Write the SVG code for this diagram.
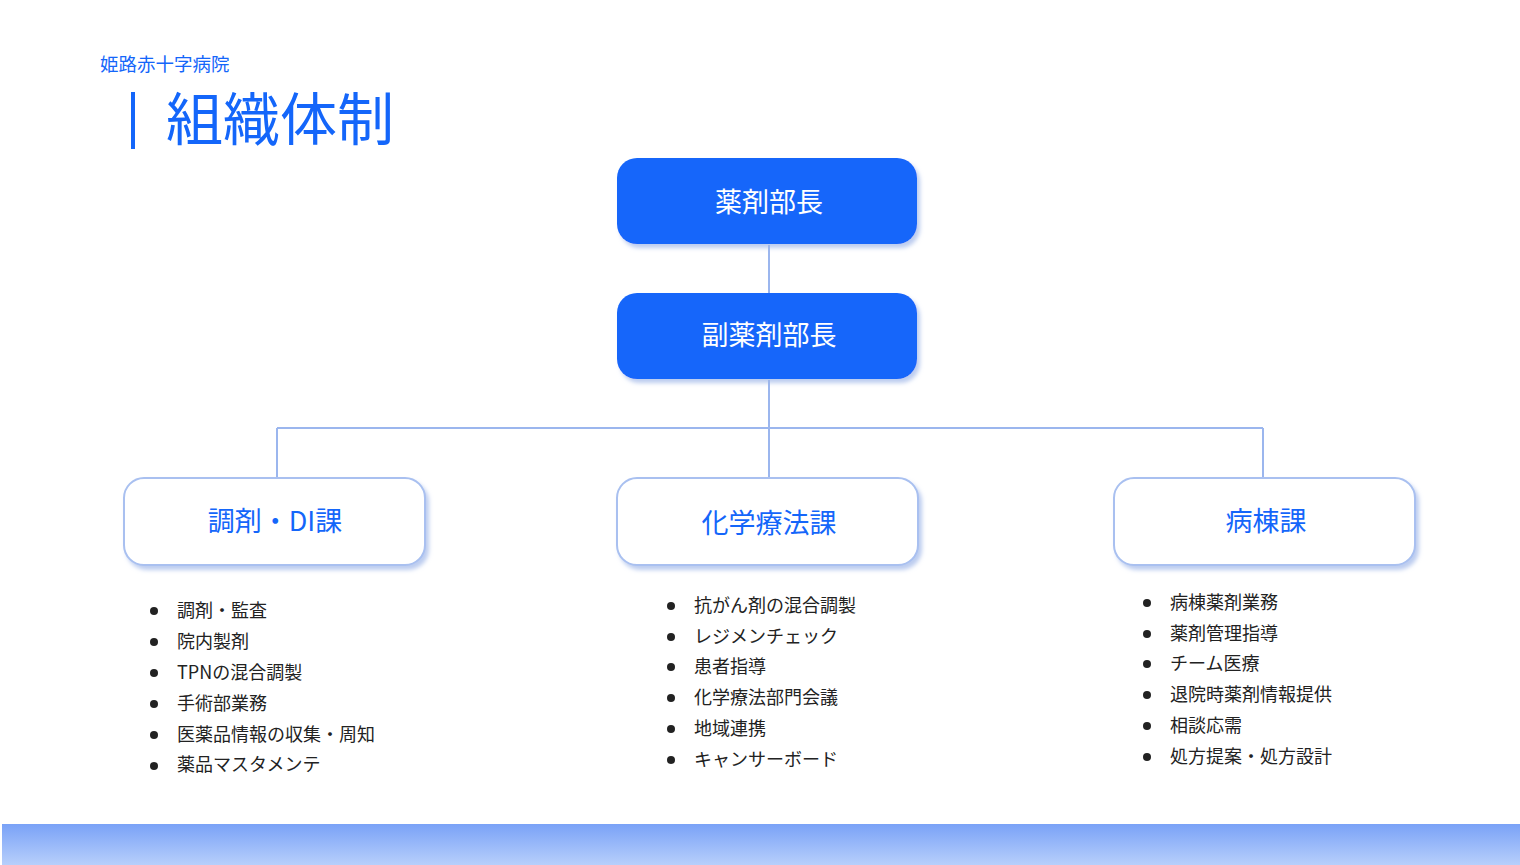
<svg xmlns="http://www.w3.org/2000/svg" width="1520" height="865" viewBox="0 0 1520 865">
<defs>
<linearGradient id="bar" x1="0" y1="0" x2="0" y2="1"><stop offset="0" stop-color="#7aa2f7"/><stop offset="1" stop-color="#b7cffb"/></linearGradient>
<filter id="sh" x="-10%" y="-10%" width="125%" height="130%"><feDropShadow dx="3" dy="4" stdDeviation="2" flood-color="#9fb6e8" flood-opacity="0.7"/></filter>
</defs>
<style>
text{font-family:"Noto Sans CJK JP","Noto Sans",sans-serif}
.top{fill:#1466fa;filter:url(#sh)}
.sub{fill:#fff;stroke:#a9c0f0;stroke-width:2;filter:url(#sh)}
.tw{fill:#fff;font-size:27px;text-anchor:middle}
.tb{fill:#1466fa;font-size:27px;text-anchor:middle}
.li{font-size:18px;fill:#222}
.b{fill:#222}
.ln{stroke:#9bb6ee;stroke-width:2;fill:none}
</style>
<rect width="1520" height="865" fill="#fff"/>
<text x="100" y="71" font-size="18.5" fill="#1466fa">姫路赤十字病院</text>
<rect x="131" y="92" width="4" height="57" fill="#1466fa"/>
<text x="166" y="140" font-size="57" fill="#1466fa">組織体制</text>
<g id="connectors">
<path class="ln" d="M769 245V293M769 380V428M277 428H1263M277 428V478M769 428V478M1263 428V478"/>
</g>
<g id="n1"><rect class="top" x="617" y="158" width="300" height="86" rx="20"/><text class="tw" x="769" y="212">薬剤部長</text></g>
<g id="n2"><rect class="top" x="617" y="293" width="300" height="86" rx="20"/><text class="tw" x="769" y="345">副薬剤部長</text></g>
<g id="n3"><rect class="sub" x="124" y="478" width="301" height="87" rx="20"/><text class="tb" x="275" y="531">調剤・DI課</text></g>
<g id="n4"><rect class="sub" x="617" y="478" width="301" height="87" rx="20"/><text class="tb" x="769" y="533">化学療法課</text></g>
<g id="n5"><rect class="sub" x="1114" y="478" width="301" height="87" rx="20"/><text class="tb" x="1266" y="531">病棟課</text></g>
<g id="list1" class="li">
<circle class="b" cx="154" cy="611" r="4"/><circle class="b" cx="154" cy="642" r="4"/><circle class="b" cx="154" cy="673" r="4"/><circle class="b" cx="154" cy="704" r="4"/><circle class="b" cx="154" cy="735" r="4"/><circle class="b" cx="154" cy="766" r="4"/>
<text x="177" y="617">調剤・監査</text><text x="177" y="648">院内製剤</text><text x="177" y="679">TPNの混合調製</text><text x="177" y="710">手術部業務</text><text x="177" y="741">医薬品情報の収集・周知</text><text x="177" y="771">薬品マスタメンテ</text>
</g>
<g id="list2" class="li">
<circle class="b" cx="671" cy="606" r="4"/><circle class="b" cx="671" cy="637" r="4"/><circle class="b" cx="671" cy="667" r="4"/><circle class="b" cx="671" cy="698" r="4"/><circle class="b" cx="671" cy="729" r="4"/><circle class="b" cx="671" cy="760" r="4"/>
<text x="694" y="612">抗がん剤の混合調製</text><text x="694" y="643">レジメンチェック</text><text x="694" y="673">患者指導</text><text x="694" y="704">化学療法部門会議</text><text x="694" y="735">地域連携</text><text x="694" y="766">キャンサーボード</text>
</g>
<g id="list3" class="li">
<circle class="b" cx="1147" cy="603" r="4"/><circle class="b" cx="1147" cy="634" r="4"/><circle class="b" cx="1147" cy="664" r="4"/><circle class="b" cx="1147" cy="695" r="4"/><circle class="b" cx="1147" cy="726" r="4"/><circle class="b" cx="1147" cy="757" r="4"/>
<text x="1170" y="609">病棟薬剤業務</text><text x="1170" y="640">薬剤管理指導</text><text x="1170" y="670">チーム医療</text><text x="1170" y="701">退院時薬剤情報提供</text><text x="1170" y="732">相談応需</text><text x="1170" y="763">処方提案・処方設計</text>
</g>
<rect x="2" y="824" width="1518" height="41" fill="url(#bar)"/>
</svg>
